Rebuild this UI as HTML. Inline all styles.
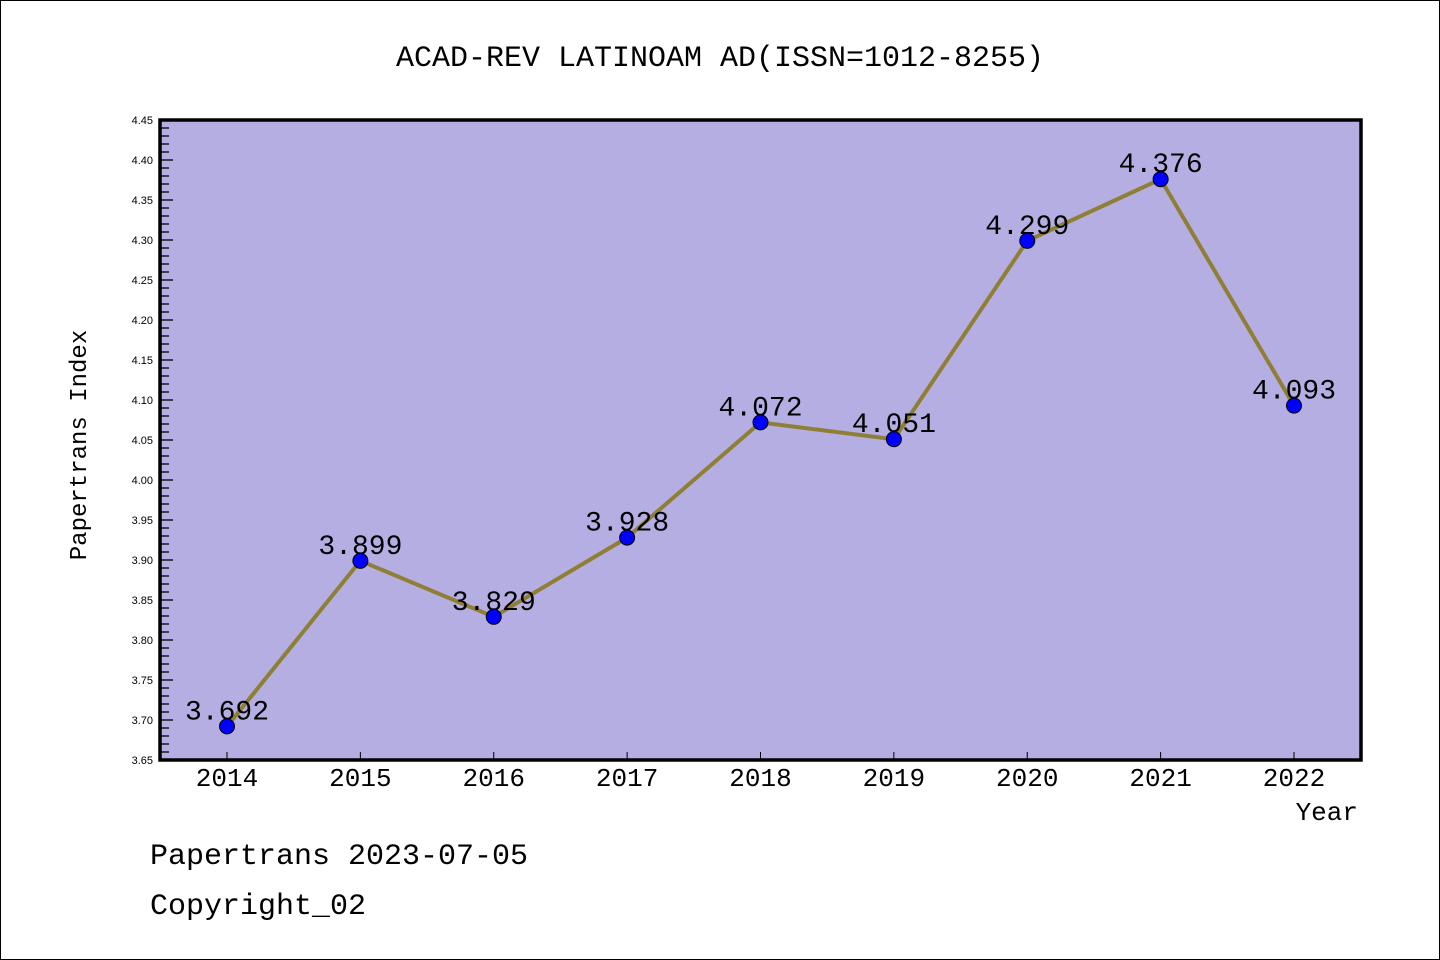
<!DOCTYPE html>
<html><head><meta charset="utf-8"><style>
html,body{margin:0;padding:0;background:#fff;}
svg{display:block;font-family:"Liberation Mono","DejaVu Sans Mono",monospace;}
</style></head><body>
<svg id="chart" width="1440" height="960" xmlns="http://www.w3.org/2000/svg">
<rect x="0.5" y="0.5" width="1439" height="959" fill="#fff" stroke="#000" stroke-width="1"/>
<text x="720" y="66" text-anchor="middle" font-size="30">ACAD-REV LATINOAM AD(ISSN=1012-8255)</text>
<rect x="160" y="120" width="1201" height="640" fill="#b5aee2"/>
<g id="yaxis"></g>
<g id="xaxis"></g>
<g id="series"></g>
<rect x="160" y="120" width="1201" height="640" fill="none" stroke="#000" stroke-width="3.5"/>
<text x="86" y="445" text-anchor="middle" font-size="24" transform="rotate(-90 86 445)">Papertrans Index</text>
<text x="1358" y="820" text-anchor="end" font-size="26">Year</text>
<text x="150" y="864" font-size="30">Papertrans 2023-07-05</text>
<text x="150" y="914" font-size="30">Copyright_02</text>
</svg>
<script>
const years = ["2014","2015","2016","2017","2018","2019","2020","2021","2022"];
const values = [3.692, 3.899, 3.829, 3.928, 4.072, 4.051, 4.299, 4.376, 4.093];
const yTickLabels = ["3.65","3.70","3.75","3.80","3.85","3.90","3.95","4.00","4.05","4.10","4.15","4.20","4.25","4.30","4.35","4.40","4.45"];
const valueLabels = ["3.692","3.899","3.829","3.928","4.072","4.051","4.299","4.376","4.093"];

const SVGNS = "http://www.w3.org/2000/svg";
const yMin = 3.65, yMax = 4.45, plotTop = 120, plotBottom = 760;
function yScale(v){ return plotBottom - (v - yMin) / (yMax - yMin) * (plotBottom - plotTop); }
const xFirst = 227, xLast = 1294;
function xScale(i){ return xFirst + i * (xLast - xFirst) / (years.length - 1); }
function mk(tag, attrs, parent){ const e = document.createElementNS(SVGNS, tag); for (const k in attrs) e.setAttribute(k, attrs[k]); parent.appendChild(e); return e; }

const yaxisG = document.getElementById('yaxis');
const nMinor = Math.round((yMax - yMin) / 0.01);
for (let i = 0; i <= nMinor; i++) {
  const y = yScale(yMin + i * 0.01);
  const major = i % 5 === 0;
  const t = mk('line', {x1:160, x2: major ? 173 : 169, y1:y, y2:y, stroke:'#000', 'stroke-width':1.3}, yaxisG);
  
  
}
yTickLabels.forEach(function(lbl){
  const y = yScale(parseFloat(lbl));
  const t = mk('text', {x:153, y:y + 4, 'text-anchor':'end', 'font-size':11, fill:'#000', 'font-family':'"Liberation Sans",sans-serif'}, yaxisG);
  t.textContent = lbl;
  
  
});

const xaxisG = document.getElementById('xaxis');
years.forEach(function(yr, i){
  const x = xScale(i);
  const tk = mk('line', {x1:x, x2:x, y1:760, y2:752, stroke:'#000', 'stroke-width':1}, xaxisG);
  
  
  const t = mk('text', {x:x, y:786, 'text-anchor':'middle', 'font-size':26}, xaxisG);
  t.textContent = yr;
  
  
});

const seriesG = document.getElementById('series');
const pts = values.map(function(v, i){ return xScale(i) + ',' + yScale(v); }).join(' ');
const line = mk('polyline', {points:pts, fill:'none', stroke:'#8f7f35', 'stroke-width':4, 'stroke-linejoin':'round'}, seriesG);


values.forEach(function(v, i){
  const lb = mk('text', {x:xScale(i), y:yScale(v) - 7, 'text-anchor':'middle', 'font-size':28}, seriesG);
  lb.textContent = valueLabels[i];
  
  
});
values.forEach(function(v, i){
  const c = mk('circle', {cx:xScale(i), cy:yScale(v), r:7.5, fill:'#0000ff', stroke:'#000', 'stroke-width':1}, seriesG);
  
  
});
</script>
</body></html>
